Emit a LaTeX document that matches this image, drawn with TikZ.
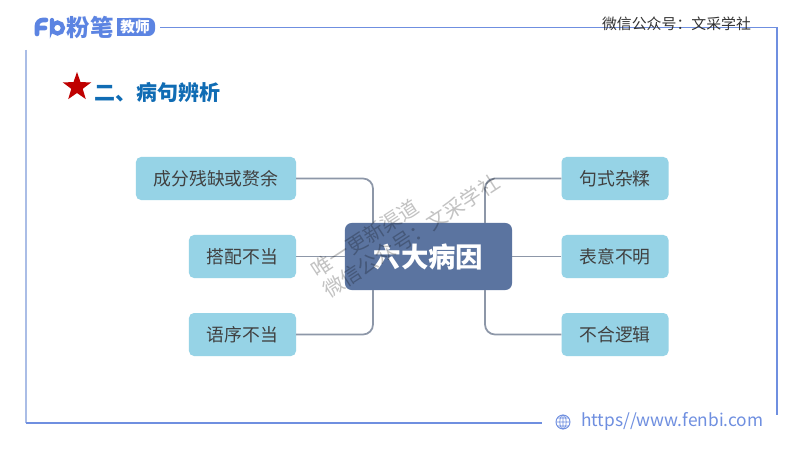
\documentclass[tikz,border=0pt]{standalone}
\usepackage{fontspec}
\setmainfont{Noto Sans CJK SC}
\usetikzlibrary{shapes.geometric}
\definecolor{frameColor}{RGB}{111,143,224}
\definecolor{frameLight}{RGB}{170,189,230}
\definecolor{boxColor}{RGB}{150,211,230}
\definecolor{mainColor}{RGB}{91,116,160}
\definecolor{linkColor}{RGB}{141,151,168}
\definecolor{titleColor}{RGB}{16,108,180}
\definecolor{logoColor}{RGB}{92,132,226}
\tikzstyle{slide} = [x = .03cm, y = -.03cm]
\tikzstyle{causeBox} = [fill=boxColor, rounded corners = .15cm, minimum height = 1.29cm, font=\fontsize{15.2}{18}\selectfont, text=black!75, inner sep = 0pt]
\tikzstyle{mainBox} = [fill=mainColor, rounded corners = .2cm, minimum width = 5.01cm, minimum height = 2.01cm, font=\fontsize{23.4}{26}\selectfont\bfseries, text=white, inner sep = 0pt]
\tikzstyle{link} = [color=linkColor, line width = 1.5pt, rounded corners = .3cm]
\tikzstyle{frameLine} = [color=frameColor, line width = 1.4pt]
\tikzstyle{waterMark} = [text=black, opacity=.24, rotate=33, align=center, font=\fontsize{17.5}{22}\selectfont, inner sep = 0pt]
\newcommand{\causeWidth}{3.21cm}
\begin{document}
\begin{tikzpicture}[slide]
        \useasboundingbox (0,0) rectangle (800,450);
        \fill [white] (0,0) rectangle (800,450);
        % frame
        \draw [frameLine] (160,27.5) -- (777,27.5) -- (777,415);
        \draw [frameLine, color=frameLight] (26,50) -- (26,423);
        \draw [frameLine] (26,423) -- (542,423);
        % logo
        \draw [color=logoColor, line width = 4pt, line cap=round] (37,34) -- (37,26) arc (180:270:6) -- (46,20) (37,28) -- (45,28);
        \draw [color=logoColor, line width = 3.6pt, line cap=round] (52,20) -- (52,28) arc (180:540:5.5);
        \node (logoText) [text=logoColor, font=\fontsize{20}{22}\selectfont\bfseries, inner sep = 0pt] at (90,27) {粉笔};
        \fill [logoColor, rounded corners = .2cm] (122,18) rectangle (155,36);
        \fill [logoColor] (117,18) rectangle (135,36);
        \node (logoBadge) [text=white, font=\fontsize{12.5}{14}\selectfont\bfseries, inner sep = 0pt] at (135,27) {教师};
        % header and title
        \node (account) [text=black!80, font=\fontsize{12.7}{14}\selectfont, inner sep = 0pt] at (676.5,23.5) {微信公众号：文采学社};
        \node (star) [star, star points=5, star point ratio=2.5, fill=red!75!black, minimum size = .9cm, inner sep = 0pt] at (77,87) {};
        \node (title) [anchor=west, text=titleColor, font=\fontsize{17.9}{20}\selectfont\bfseries, inner sep = 0pt] at (94,92) {二、病句辨析};
        % boxes
        \node (mainCause) [mainBox] at (428.5,256.5) {六大病因};
        \node (causeA) [causeBox, minimum width = 4.8cm] at (216,178.5) {成分残缺或赘余};
        \node (causeB) [causeBox, minimum width = \causeWidth] at (242.5,256.5) {搭配不当};
        \node (causeC) [causeBox, minimum width = \causeWidth] at (242.5,334.5) {语序不当};
        \node (causeD) [causeBox, minimum width = \causeWidth] at (615,178.5) {句式杂糅};
        \node (causeE) [causeBox, minimum width = \causeWidth] at (615,256.5) {表意不明};
        \node (causeF) [causeBox, minimum width = \causeWidth] at (615,334.5) {不合逻辑};
        \coordinate (busLeft) at (373,256.5);
        \coordinate (busRight) at (485,256.5);
        % connectors
        \draw [link] (causeA.east) -| (busLeft |- mainCause.north);
        \draw [link] (causeB.east) -- (mainCause.west |- causeB.east);
        \draw [link] (causeC.east) -| (busLeft |- mainCause.south);
        \draw [link] (causeD.west) -| (busRight |- mainCause.north);
        \draw [link] (causeE.west) -- (mainCause.east |- causeE.west);
        \draw [link] (causeF.west) -| (busRight |- mainCause.south);
        % watermark
        \node (stampTop) [waterMark] at (365,238) {唯一更新渠道};
        \node (stampBottom) [waterMark] at (411,236) {微信公众号：文采学社};
        % footer
        \draw [frameColor, line width = .8pt] (563,422) circle (7);
        \draw [frameColor, line width = .6pt] (563,422) ellipse (3.2 and 7) (556,422) -- (570,422) (557,418) -- (569,418) (557,426) -- (569,426) (563,415) -- (563,429);
        \node (siteLink) [anchor=west, text=frameColor, font=\fontsize{14.8}{16}\selectfont, inner sep = 0pt] at (581,421) {https//www.fenbi.com};
\end{tikzpicture}
\end{document}
